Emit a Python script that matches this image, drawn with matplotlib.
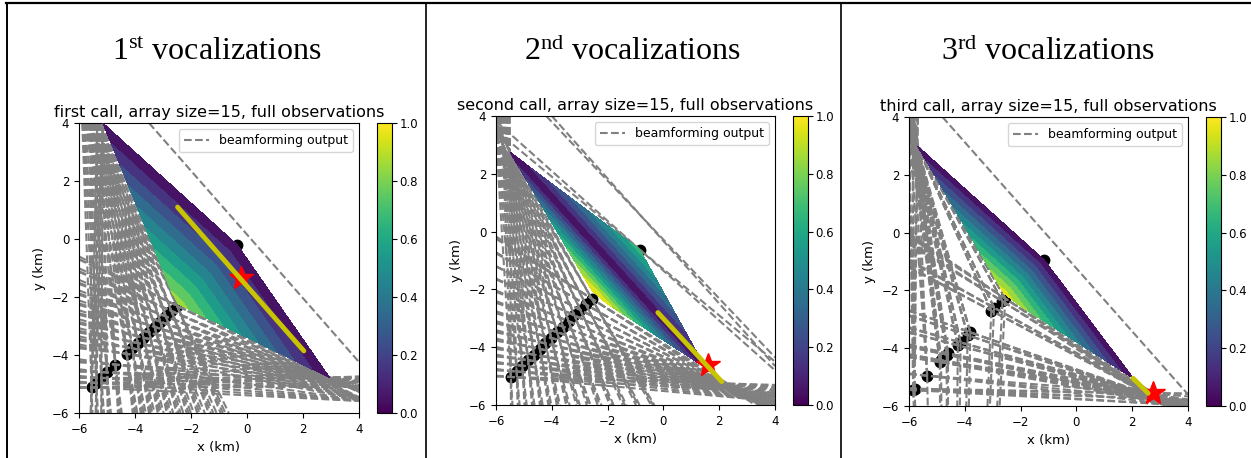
import numpy as np
import matplotlib
matplotlib.use('Agg')
import matplotlib.pyplot as plt
import matplotlib.tri as mtri
from matplotlib.lines import Line2D
from matplotlib import cm, colors

plt.rcParams['mathtext.fontset'] = 'custom'
plt.rcParams['mathtext.rm'] = 'Liberation Serif'
plt.rcParams['mathtext.it'] = 'Liberation Serif:italic'

# ---------------- data ----------------
headers = ['1$^{\\mathrm{st}}$ vocalizations', '2$^{\\mathrm{nd}}$ vocalizations', '3$^{\\mathrm{rd}}$ vocalizations']
titles = ['first call, array size=15, full observations',
          'second call, array size=15, full observations',
          'third call, array size=15, full observations']
axis_ticks = [-6, -4, -2, 0, 2, 4]
cbar_ticks = [0.0, 0.2, 0.4, 0.6, 0.8, 1.0]
legend_label = 'beamforming output'

# panel 1 (first call)
p1_sensor_x = [-5.55, -5.38, -5.2, -5.0, -4.7, -4.3, -4.1, -3.9, -3.7, -3.5, -3.3, -3.1, -2.9, -2.7, -2.5]
p1_sensor_y = [-5.12, -4.96, -4.79, -4.60, -4.33, -3.96, -3.77, -3.59, -3.40, -3.22, -3.03, -2.85, -2.67, -2.48, -2.30]
p1_lone = [-0.35, -0.2]
p1_anchor_x = [-5.15, -5.35, -5.6, -5.9, 2.95, 3.6, 4.3]
p1_anchor_y = [4.0, 4.15, 4.35, 4.5, -4.78, -5.1, -5.6]
p1_anchor_ray = [0, 0, 0, 0, 0, 0, 0]
p1_extra_x0 = [-3.5]
p1_extra_y0 = [4.0]
p1_extra_x1 = [4.0]
p1_extra_y1 = [-4.24]
p1_poly_x = [-5.15, -0.35, 2.95, -2.45, -2.7]
p1_poly_y = [4.0, -0.2, -4.78, -2.25, -1.8]
p1_poly_z = [0.0, 0.0, 0.0, 0.85, 0.8]
p1_tris = [[0, 1, 4], [1, 3, 4], [1, 2, 3]]
p1_best_x = [-2.48, 2.03]
p1_best_y = [1.10, -3.86]
p1_star = [-0.2, -1.35]

# panel 2 (second call)
p2_sensor_x = [-5.47, -5.26, -5.06, -4.85, -4.64, -4.43, -4.23, -4.02, -3.81, -3.60, -3.40, -3.19, -2.98, -2.78, -2.57]
p2_sensor_y = [-5.03, -4.84, -4.64, -4.45, -4.26, -4.06, -3.87, -3.68, -3.48, -3.29, -3.10, -2.90, -2.71, -2.52, -2.32]
p2_lone = [-0.85, -0.62]
p2_anchor_x = [-5.5, -5.75, -6.0, 2.1, 2.6, 3.2]
p2_anchor_y = [2.75, 3.0, 3.3, -5.25, -5.5, -5.8]
p2_anchor_ray = [0, 0, 0, 0, 0, 0]
p2_extra_x0 = [-4.2, -4.0, -0.85, -0.85]
p2_extra_y0 = [4.0, 4.0, -0.62, -0.62]
p2_extra_x1 = [4.0, 4.0, 4.0, 4.0]
p2_extra_y1 = [-4.35, -4.65, -4.5, -4.8]
p2_poly_x = [-5.5, -0.85, 1.5, -2.03, -2.57]
p2_poly_y = [2.75, -0.62, -4.7, -2.49, -2.03]
p2_poly_z = [0.0, 0.65, 0.0, 0.95, 1.0]
p2_tris = [[0, 1, 2], [0, 2, 3], [0, 3, 4]]
p2_best_x = [-0.20, 2.09]
p2_best_y = [-2.80, -5.19]
p2_star = [1.61, -4.62]

# panel 3 (third call)
p3_sensor_x = [-5.85, -5.8, -5.35, -4.9, -4.85, -4.65, -4.6, -4.25, -4.15, -3.9, -3.8, -3.05, -2.95, -2.65, -2.55]
p3_sensor_y = [-5.45, -5.4, -4.95, -4.48, -4.42, -4.22, -4.18, -3.9, -3.8, -3.55, -3.45, -2.7, -2.6, -2.38, -2.28]
p3_lone = [-1.15, -0.95]
p3_anchor_x = [-5.7, -5.85, -6.0, 2.45, 2.9, 3.4, -4.6]
p3_anchor_y = [3.0, 3.3, 3.6, -5.55, -5.75, -5.95, -40.0]
p3_anchor_ray = [1, 1, 1, 0, 0, 0, 1]
p3_extra_x0 = [-4.8]
p3_extra_y0 = [4.0]
p3_extra_x1 = [4.0]
p3_extra_y1 = [-5.6]
p3_poly_x = [-5.7, -1.15, 2.05, -2.0, -2.6]
p3_poly_y = [3.0, -0.95, -5.05, -2.55, -2.1]
p3_poly_z = [0.0, 0.0, 0.0, 0.85, 0.95]
p3_tris = [[0, 1, 4], [1, 3, 4], [1, 2, 3]]
p3_best_x = [2.03, 2.57]
p3_best_y = [-5.04, -5.56]
p3_star = [2.75, -5.56]

panels = [
    dict(sx=p1_sensor_x, sy=p1_sensor_y, lone=p1_lone, ax_=p1_anchor_x, ay_=p1_anchor_y, ray=p1_anchor_ray,
         ex0=p1_extra_x0, ey0=p1_extra_y0, ex1=p1_extra_x1, ey1=p1_extra_y1,
         px=p1_poly_x, py=p1_poly_y, pz=p1_poly_z, tris=p1_tris,
         bx=p1_best_x, by=p1_best_y, star=p1_star),
    dict(sx=p2_sensor_x, sy=p2_sensor_y, lone=p2_lone, ax_=p2_anchor_x, ay_=p2_anchor_y, ray=p2_anchor_ray,
         ex0=p2_extra_x0, ey0=p2_extra_y0, ex1=p2_extra_x1, ey1=p2_extra_y1,
         px=p2_poly_x, py=p2_poly_y, pz=p2_poly_z, tris=p2_tris,
         bx=p2_best_x, by=p2_best_y, star=p2_star),
    dict(sx=p3_sensor_x, sy=p3_sensor_y, lone=p3_lone, ax_=p3_anchor_x, ay_=p3_anchor_y, ray=p3_anchor_ray,
         ex0=p3_extra_x0, ey0=p3_extra_y0, ex1=p3_extra_x1, ey1=p3_extra_y1,
         px=p3_poly_x, py=p3_poly_y, pz=p3_poly_z, tris=p3_tris,
         bx=p3_best_x, by=p3_best_y, star=p3_star),
]

# ---------------- layout ----------------
W, H = 1251, 458
fig = plt.figure(figsize=(W / 100, H / 100), dpi=100)

def rect(l, r, t, b):
    return [l / W, 1 - b / H, (r - l) / W, (b - t) / H]

ax_rects = [rect(79, 359, 123, 413), rect(496, 775, 116, 405), rect(909, 1188, 117, 406)]
cb_rects = [rect(377, 392, 123, 413), rect(793, 808, 116, 405), rect(1206, 1221, 117, 406)]
header_x = [217, 633, 1048]

# table lines
fig.add_artist(Line2D([6 / W, 1], [1 - 3 / H, 1 - 3 / H], color='black', lw=1.6))
fig.add_artist(Line2D([6.5 / W, 6.5 / W], [0, 1 - 3 / H], color='black', lw=1.4))
for xs in [425.5, 840.5]:
    fig.add_artist(Line2D([xs / W, xs / W], [0, 1 - 3 / H], color='black', lw=1.2))

for hx, htxt in zip(header_x, headers):
    fig.text(hx / W, 1 - 52 / H, htxt, ha='center', va='center', fontsize=23,
             family='Liberation Serif')

levels = np.linspace(0, 1, 11)
norm = colors.Normalize(0, 1)
dash_kw = dict(ls='--', color='grey', lw=1.5, zorder=2)

for i, p in enumerate(panels):
    ax = fig.add_axes(ax_rects[i])
    cax = fig.add_axes(cb_rects[i])

    tri = mtri.Triangulation(p['px'], p['py'], triangles=p['tris'])
    ax.tricontourf(tri, p['pz'], levels=levels, cmap='viridis', norm=norm, zorder=3)

    ax.plot(p['sx'], p['sy'], 'o', color='black', ms=7.5, zorder=1)
    ax.plot([p['lone'][0]], [p['lone'][1]], 'o', color='black', ms=7.5, zorder=1)

    for sxx, syy in zip(p['sx'], p['sy']):
        for axx, ayy, is_ray in zip(p['ax_'], p['ay_'], p['ray']):
            if is_ray:
                d = np.array([axx - sxx, ayy - syy])
                far = np.array([sxx, syy]) + d / np.hypot(*d) * 30
                ax.plot([sxx, far[0]], [syy, far[1]], **dash_kw)
            else:
                ax.axline((sxx, syy), (axx, ayy), **dash_kw)
    for x0, y0, x1, y1 in zip(p['ex0'], p['ey0'], p['ex1'], p['ey1']):
        ax.axline((x0, y0), (x1, y1), **dash_kw)

    ax.plot([p['star'][0]], [p['star'][1]], '*', color='red', ms=18, zorder=4)
    ax.plot(p['bx'], p['by'], '-', color='#c8c400', lw=3.5, solid_capstyle='round', zorder=5)

    ax.set_xlim(-6, 4)
    ax.set_ylim(-6, 4)
    ax.set_xticks(axis_ticks)
    ax.set_yticks(axis_ticks)
    ax.tick_params(labelsize=8.5)
    ax.set_xlabel('x (km)', fontsize=9.5)
    ax.set_ylabel('y (km)', fontsize=9.5)
    ax.set_title(titles[i], fontsize=11.5, pad=4)
    h = Line2D([], [], ls='--', color='grey', lw=1.5, label=legend_label)
    ax.legend(handles=[h], loc='upper right', fontsize=9)

    cb = fig.colorbar(cm.ScalarMappable(norm=norm, cmap='viridis'), cax=cax)
    cb.set_ticks(cbar_ticks)
    cb.ax.tick_params(labelsize=8.5, pad=2)
    cb.outline.set_linewidth(0.8)

fig.savefig('out.png', dpi=100)
